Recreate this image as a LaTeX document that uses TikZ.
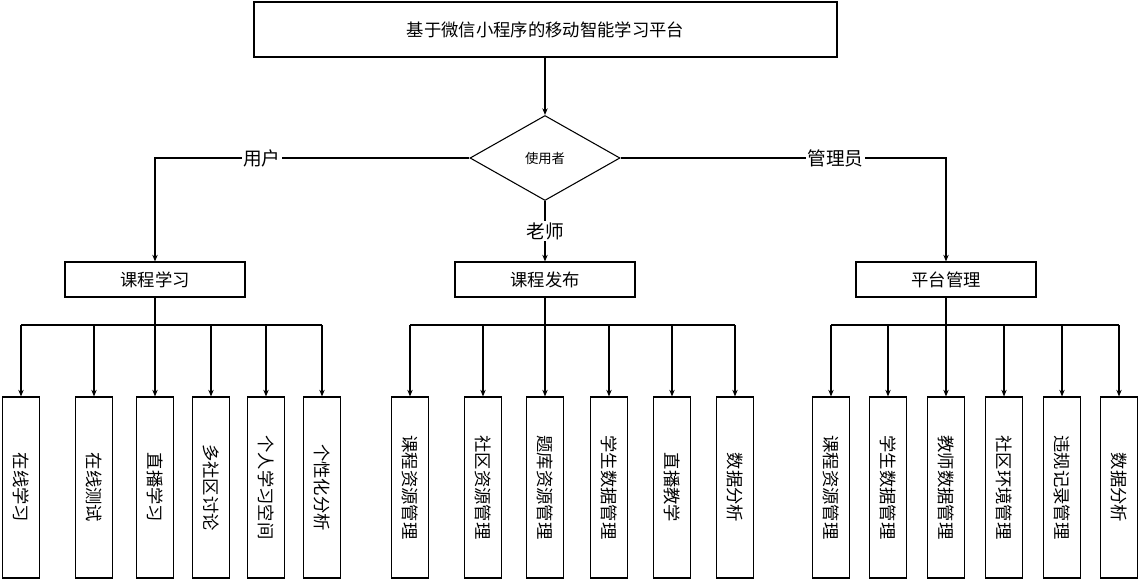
\documentclass[tikz,border=0pt]{standalone}
\usepackage{fontspec}
\setmainfont{Noto Sans CJK SC}
\usetikzlibrary{shapes.geometric,arrows.meta}
\begin{document}
\begin{tikzpicture}[x=0.75pt,y=-0.75pt,
  box/.style={draw,thick,minimum width=180*0.75pt,minimum height=35*0.75pt,font=\fontsize{13}{15}\selectfont},
  leaf/.style={draw,thick,minimum width=37*0.75pt,minimum height=181*0.75pt,font=\fontsize{13}{15}\selectfont},
  vt/.style={rotate=-90,font=\fontsize{13}{15}\selectfont},
  arr/.style={thick,-{Stealth[length=5pt,width=4pt]}},
  lab/.style={fill=white,inner sep=1pt,font=\fontsize{14}{16}\selectfont}]
\useasboundingbox (0,0) rectangle (1139,579);
\node[draw,thick,minimum width=583*0.75pt,minimum height=55*0.75pt,font=\fontsize{13}{15}\selectfont] (title) at (545.5,29.5) {基于微信小程序的移动智能学习平台};
\node[draw,thick,diamond,aspect=1.76,minimum width=150*0.75pt,minimum height=85*0.75pt,inner sep=0pt,font=\fontsize{10}{12}\selectfont] (d) at (545,158) {使用者};
\draw[arr] (title.south -| d.north) -- (d.north);
\node[box] (a) at (155,279.5) {课程学习};
\node[box] (b) at (545,279.5) {课程发布};
\node[box] (c) at (946,279.5) {平台管理};
\draw[arr] (d.west) -| node[lab,pos=0.33]{用户} (a.north);
\draw[arr] (d.east) -| node[lab,pos=0.33]{管理员} (c.north);
\draw[arr] (d.south) -- node[lab,pos=0.5]{老师} (b.north);
\foreach \p/\x/\t [count=\i] in {
 a/21/在线学习,a/94/在线测试,a/155/直播学习,a/211/多社区讨论,a/266/个人学习空间,a/322/个性化分析,
 b/410/课程资源管理,b/483/社区资源管理,b/545/题库资源管理,b/609/学生数据管理,b/672/直播教学,b/735/数据分析,
 c/831/课程资源管理,c/888/学生数据管理,c/946/教师数据管理,c/1004/社区环境管理,c/1062/违规记录管理,c/1119/数据分析}{
  \node[leaf] (l\i) at (\x,487.5) {};
  \node[vt] at (l\i) {\t};
  \coordinate (t\i) at (\x,325);
  \draw[arr] (t\i) -- (l\i.north);
}
\draw[thick] (a.south) -- (a.south |- t1); \draw[thick] (t1) -- (t6);
\draw[thick] (b.south) -- (b.south |- t7); \draw[thick] (t7) -- (t12);
\draw[thick] (c.south) -- (c.south |- t13); \draw[thick] (t13) -- (t18);
\end{tikzpicture}
\end{document}
